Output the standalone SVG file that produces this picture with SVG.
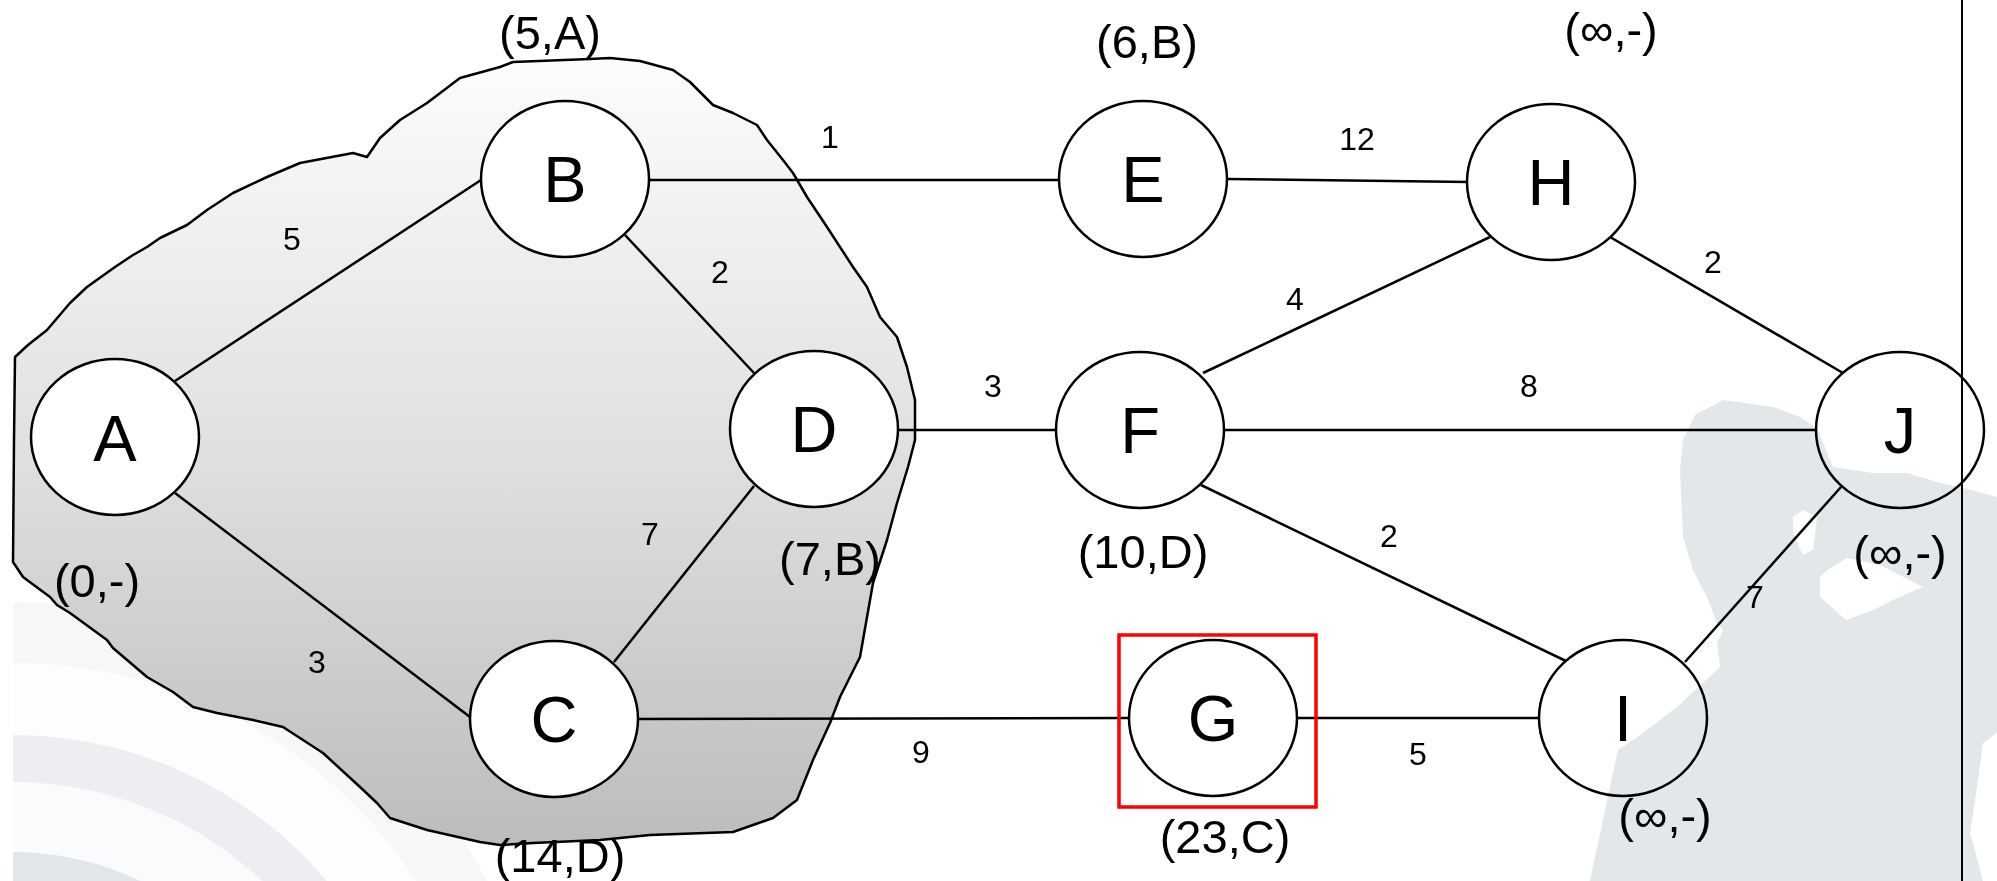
<svg xmlns="http://www.w3.org/2000/svg" width="1997" height="881" viewBox="0 0 1997 881">
<style>
.node ellipse{fill:#fff;stroke:#000;stroke-width:2.5}
text{font-family:"Liberation Sans",Arial,sans-serif;text-anchor:middle;fill:#000}
.nl{font-size:65px}
.dl{font-size:47px}
.wl{font-size:32px}
#connectors line{stroke:#000;stroke-width:2.5}
</style>
<defs>
<linearGradient id="blobGrad" gradientUnits="userSpaceOnUse" x1="0" y1="58" x2="0" y2="845">
<stop offset="0" stop-color="#fbfcfd"/>
<stop offset="0.5" stop-color="#dfe0e0"/>
<stop offset="1" stop-color="#bcbcbc"/>
</linearGradient>
<clipPath id="bgClip"><rect x="13" y="0" width="1984" height="881"/></clipPath>
</defs>
<rect x="0" y="0" width="1997" height="881" fill="#fff"/>
<g id="background-arcs" clip-path="url(#bgClip)">
<circle cx="13" cy="1145" r="543" fill="#f6f7f9"/>
<circle cx="13" cy="1145" r="482" fill="#fdfdfe"/>
<circle cx="13" cy="1145" r="410" fill="#eceef1"/>
<circle cx="13" cy="1145" r="363" fill="#fafbfc"/>
<circle cx="13" cy="1145" r="293" fill="#e2e5ea"/>
</g>
<g id="cluster">
<path d="M15,357 L28,345 47,330 70,303 87,287 115,267 133,255 147,247 160,238 187,225 207,210 233,193 267,177 300,163 353,153 367,157 380,138 400,120 427,103 460,78 500,67 513,62 590,59 610,58 640,61 673,70 690,82 713,105 733,113 757,125 767,140 783,160 793,173 807,197 827,227 853,267 867,287 880,317 897,337 907,367 915,400 915,440 908,467 897,503 887,540 873,583 860,657 840,697 830,723 813,760 797,800 773,818 733,832 650,835 600,840 533,843 500,845 480,842 427,830 390,818 377,803 360,787 323,753 283,727 253,720 217,713 193,707 173,692 147,677 113,648 107,640 70,613 57,605 50,597 23,577 13,562 14,440 Z" fill="url(#blobGrad)" stroke="#000" stroke-width="2.5" stroke-linejoin="round"/>
</g>
<g id="connectors">
<line x1="175" y1="381" x2="481" y2="180"/>
<line x1="175" y1="493" x2="470" y2="717"/>
<line x1="625" y1="235" x2="754" y2="373"/>
<line x1="649" y1="180" x2="1060" y2="180"/>
<line x1="754" y1="486" x2="614" y2="662"/>
<line x1="898" y1="430" x2="1056" y2="430"/>
<line x1="637" y1="719" x2="1129" y2="718"/>
<line x1="1226" y1="179" x2="1469" y2="182"/>
<line x1="1203" y1="373" x2="1490" y2="237"/>
<line x1="1223" y1="430" x2="1817" y2="430"/>
<line x1="1201" y1="485" x2="1568" y2="662"/>
<line x1="1610" y1="237" x2="1843" y2="373"/>
<line x1="1297" y1="718" x2="1539" y2="718"/>
<line x1="1685" y1="662" x2="1841" y2="487"/>
<text class="wl" x="292" y="250">5</text>
<text class="wl" x="317" y="673">3</text>
<text class="wl" x="720" y="283">2</text>
<text class="wl" x="830" y="148">1</text>
<text class="wl" x="650" y="545">7</text>
<text class="wl" x="993" y="397">3</text>
<text class="wl" x="921" y="763">9</text>
<text class="wl" x="1357" y="150">12</text>
<text class="wl" x="1295" y="310">4</text>
<text class="wl" x="1713" y="273">2</text>
<text class="wl" x="1529" y="397">8</text>
<text class="wl" x="1389" y="547">2</text>
<text class="wl" x="1418" y="765">5</text>
<text class="wl" x="1755" y="608">7</text>
</g>
<rect id="highlight" x="1119" y="635" width="197" height="172" fill="none" stroke="#ff0000" stroke-width="3.5"/>
<g id="node-A" class="node"><ellipse cx="115" cy="437" rx="84" ry="78"/><text class="nl" x="115" y="461">A</text><text class="dl" x="97" y="597">(0,-)</text></g>
<g id="node-B" class="node"><ellipse cx="565" cy="179" rx="84" ry="78"/><text class="nl" x="565" y="202">B</text><text class="dl" x="550" y="49">(5,A)</text></g>
<g id="node-C" class="node"><ellipse cx="554" cy="719" rx="84" ry="78"/><text class="nl" x="554" y="742">C</text><text class="dl" x="560" y="872">(14,D)</text></g>
<g id="node-D" class="node"><ellipse cx="814" cy="429" rx="84" ry="78"/><text class="nl" x="814" y="452">D</text><text class="dl" x="830" y="575">(7,B)</text></g>
<g id="node-E" class="node"><ellipse cx="1143" cy="179" rx="84" ry="78"/><text class="nl" x="1143" y="202">E</text><text class="dl" x="1147" y="58">(6,B)</text></g>
<g id="node-F" class="node"><ellipse cx="1140" cy="430" rx="84" ry="78"/><text class="nl" x="1140" y="453">F</text><text class="dl" x="1143" y="568">(10,D)</text></g>
<g id="node-G" class="node"><ellipse cx="1213" cy="718" rx="84" ry="78"/><text class="nl" x="1213" y="741">G</text><text class="dl" x="1225" y="853">(23,C)</text></g>
<g id="node-H" class="node"><ellipse cx="1551" cy="182" rx="84" ry="78"/><text class="nl" x="1551" y="205">H</text><text class="dl" x="1611" y="46">(∞,-)</text></g>
<g id="node-I" class="node"><ellipse cx="1623" cy="718" rx="84" ry="78"/><text class="nl" x="1623" y="741">I</text><text class="dl" x="1665" y="832">(∞,-)</text></g>
<g id="node-J" class="node"><ellipse cx="1900" cy="430" rx="84" ry="78"/><text class="nl" x="1900" y="453">J</text><text class="dl" x="1900" y="569">(∞,-)</text></g>
<line id="frame-line" x1="1962" y1="0" x2="1962" y2="881" stroke="#000" stroke-width="2"/>
<g id="watermark" style="mix-blend-mode:multiply">
<path fill="#e2e7ea" fill-rule="evenodd" d="M1590,881 L1610,787 1618,750 1643,733 1677,707 1720,667 1717,643 1723,630 1717,623 1707,597 1693,570 1683,537 1680,470 1683,440 1695,415 1723,400 1773,407 1800,417 1817,428 1833,467 1853,470 1873,473 1907,473 1940,483 1960,487 1997,497 1997,733 1983,743 1977,787 1970,833 1983,881 Z M1793,517 L1803,510 1817,517 1815,535 1813,550 1803,555 1793,533 Z M1820,577 L1827,570 1847,558 1880,565 1923,587 1893,600 1873,610 1847,620 1840,615 1820,597 Z"/>
</g>
</svg>
